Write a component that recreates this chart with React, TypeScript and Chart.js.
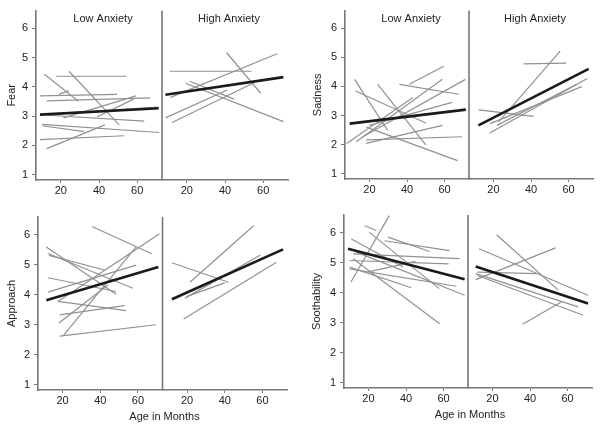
import React, { useEffect, useRef } from 'react';
import { Chart, registerables } from 'chart.js';

Chart.register(...registerables);
Chart.defaults.font.family = "'Liberation Sans', Arial, Helvetica, sans-serif";

// ---------- data ----------
// each subject segment: [startAge, startValue, endAge, endValue]
const X_TICKS = [20, 40, 60];
const Y_TICKS = [1, 2, 3, 4, 5, 6];
const X_MIN = 7;
const X_MAX = 73;
const Y_MIN = 0.82;
const Y_MAX = 6.6;
const GROUP_TITLES = ['Low Anxiety', 'High Anxiety'];
const X_TITLE = 'Age in Months';

const fearLow = [
  [17.5, 4.36, 54.3, 4.36],
  [11.4, 4.43, 29.2, 3.51],
  [24.3, 4.53, 50.6, 2.7],
  [19.1, 3.75, 24.3, 3.86],
  [9.1, 3.69, 49.4, 3.74],
  [12.6, 3.52, 66.9, 3.62],
  [9.5, 3.05, 70.7, 3.31],
  [13.0, 3.03, 63.7, 2.83],
  [10.3, 2.72, 71.6, 2.44],
  [10.3, 2.67, 32.2, 2.47],
  [9.1, 2.2, 53.2, 2.33],
  [12.6, 1.89, 43.1, 2.7],
  [21.4, 2.94, 59.4, 3.69],
  [38.9, 2.97, 58.1, 3.58],
];
const fearLowTrend = [9.1, 3.05, 71.3, 3.27];
const fearHigh = [
  [11.0, 4.53, 53.8, 4.53],
  [40.8, 5.17, 58.7, 3.78],
  [11.4, 3.64, 67.4, 5.13],
  [19.3, 4.12, 70.6, 2.81],
  [8.8, 2.94, 41.2, 3.89],
  [12.3, 2.78, 55.2, 4.14],
  [21.5, 4.19, 44.7, 3.58],
];
const fearHighTrend = [8.8, 3.73, 70.6, 4.33];

const sadnessLow = [
  [12.1, 4.24, 29.7, 2.49],
  [12.6, 3.84, 50.0, 2.74],
  [24.4, 4.07, 50.0, 1.99],
  [35.9, 4.07, 67.6, 3.73],
  [41.2, 4.07, 59.6, 4.69],
  [13.0, 2.1, 58.8, 4.24],
  [16.5, 2.27, 71.1, 4.24],
  [18.3, 2.04, 58.8, 2.66],
  [18.3, 2.16, 69.3, 2.27],
  [20.0, 2.66, 64.0, 3.45],
  [18.4, 2.6, 66.9, 1.45],
  [7.9, 2.04, 43.1, 3.62],
];
const sadnessLowTrend = [9.5, 2.72, 71.3, 3.2];
const sadnessHigh = [
  [36.0, 4.77, 58.7, 4.8],
  [22.8, 2.78, 55.5, 5.21],
  [12.1, 3.19, 41.3, 2.97],
  [18.0, 2.4, 70.0, 4.27],
  [18.3, 2.72, 67.0, 3.99],
  [21.9, 2.66, 64.3, 4.07],
];
const sadnessHighTrend = [12.0, 2.66, 70.7, 4.6];

const approachLow = [
  [35.6, 6.28, 67.3, 5.37],
  [11.4, 5.6, 48.4, 4.02],
  [12.3, 5.38, 57.3, 4.22],
  [12.8, 5.32, 42.3, 4.83],
  [12.3, 4.57, 48.4, 4.11],
  [12.3, 4.09, 59.0, 4.99],
  [17.6, 3.78, 71.4, 6.04],
  [18.5, 3.33, 52.9, 3.64],
  [17.6, 3.78, 53.7, 3.47],
  [18.5, 2.62, 69.6, 3.0],
  [20.2, 2.62, 59.0, 5.6],
  [18.1, 3.06, 44.0, 4.33],
];
const approachLowTrend = [11.4, 3.82, 70.8, 4.93];
const approachHigh = [
  [12.0, 5.07, 42.0, 4.42],
  [21.7, 4.43, 55.3, 6.31],
  [18.2, 3.19, 67.4, 5.09],
  [19.0, 3.89, 58.9, 5.33],
  [20.0, 3.95, 40.0, 4.4],
];
const approachHighTrend = [12.0, 3.85, 70.9, 5.52];

const soothLow = [
  [10.7, 4.36, 31.1, 6.58],
  [18.0, 6.24, 24.2, 6.08],
  [20.5, 6.02, 57.7, 4.14],
  [30.4, 5.86, 52.6, 5.38],
  [10.9, 5.8, 38.4, 4.86],
  [11.8, 5.3, 68.5, 5.14],
  [10.0, 5.08, 62.7, 4.97],
  [10.0, 4.86, 42.8, 4.17],
  [10.0, 4.8, 66.8, 4.22],
  [11.8, 5.14, 57.9, 2.97],
  [13.6, 5.36, 71.2, 3.92],
  [28.6, 5.74, 63.2, 5.41],
  [20.0, 4.7, 45.0, 5.05],
];
const soothLowTrend = [9.1, 5.47, 71.2, 4.45];
const soothHigh = [
  [22.2, 5.94, 54.9, 4.1],
  [12.9, 5.47, 70.9, 3.92],
  [11.1, 4.44, 53.6, 5.5],
  [12.0, 4.69, 43.3, 4.64],
  [11.1, 4.64, 65.6, 3.53],
  [12.0, 4.58, 68.3, 3.25],
  [36.1, 2.95, 56.6, 3.69],
];
const soothHighTrend = [11.1, 4.88, 70.9, 3.64];

// ---------- styles ----------
const SEG_COLOR = 'rgb(145,145,145)';
const TREND_COLOR = '#1a1a1a';
const AXIS_COLOR = '#777777';
const TEXT_COLOR = '#222222';

const panelDecor = {
  id: 'panelDecor',
  afterDatasetsDraw(chart: any, _args: any, opts: any) {
    const { ctx, chartArea, scales } = chart;
    const xL = scales.xL;
    const xR = scales.xR;
    ctx.save();
    ctx.strokeStyle = AXIS_COLOR;
    ctx.lineWidth = 1.6;
    ctx.beginPath();
    ctx.moveTo(xL.right, chartArea.top);
    ctx.lineTo(xL.right, chartArea.bottom);
    ctx.stroke();
    ctx.fillStyle = TEXT_COLOR;
    ctx.font = "11px 'Liberation Sans', Arial, sans-serif";
    ctx.textAlign = 'center';
    ctx.textBaseline = 'middle';
    if (opts.showTitles) {
      ctx.fillText(GROUP_TITLES[0], (xL.left + xL.right) / 2 + 4, chartArea.top + 8.5);
      ctx.fillText(GROUP_TITLES[1], (xR.left + xR.right) / 2 + 4, chartArea.top + 8.5);
    }
    if (opts.showXTitle) {
      ctx.fillText(X_TITLE, (chartArea.left + chartArea.right) / 2 + 2, chartArea.bottom + 27);
    }
    ctx.restore();
  },
};

function segDataset(s: number[], axis: string, trend: boolean) {
  return {
    data: [
      { x: s[0], y: s[1] },
      { x: s[2], y: s[3] },
    ],
    xAxisID: axis,
    yAxisID: 'y',
    showLine: true,
    borderColor: trend ? TREND_COLOR : SEG_COLOR,
    borderWidth: trend ? 2.6 : 1.2,
    pointRadius: 0,
    pointHoverRadius: 0,
    fill: false,
  };
}

type PanelProps = {
  left: number;
  top: number;
  w: number;
  h: number;
  yWidth: number;
  xHeight: number;
  padTop: number;
  padRight: number;
  yTitle: string;
  yTitlePad: number;
  low: number[][];
  lowTrend: number[];
  high: number[][];
  highTrend: number[];
  showTitles: boolean;
  showXTitle: boolean;
};

function Panel(p: PanelProps) {
  const ref = useRef<HTMLCanvasElement>(null);
  useEffect(() => {
    if (!ref.current) return;
    const datasets: any[] = [];
    datasets.push(segDataset(p.lowTrend, 'xL', true));
    datasets.push(segDataset(p.highTrend, 'xR', true));
    p.low.forEach((s) => datasets.push(segDataset(s, 'xL', false)));
    p.high.forEach((s) => datasets.push(segDataset(s, 'xR', false)));

    const xScale = () => ({
      type: 'linear',
      axis: 'x',
      position: 'bottom',
      stack: 'age',
      stackWeight: 1,
      min: X_MIN,
      max: X_MAX,
      offset: false,
      grid: { drawOnChartArea: false, drawTicks: true, tickLength: 3, color: AXIS_COLOR, lineWidth: 1 },
      border: { display: true, color: AXIS_COLOR, width: 1.6 },
      ticks: { font: { size: 11 }, color: TEXT_COLOR, padding: 1, maxRotation: 0, autoSkip: false },
      afterBuildTicks: (s: any) => {
        s.ticks = X_TICKS.map((v) => ({ value: v }));
      },
      afterFit: (s: any) => {
        s.height = p.xHeight;
      },
    });

    const chart = new Chart(ref.current, {
      type: 'scatter',
      data: { datasets },
      options: {
        responsive: false,
        animation: false,
        devicePixelRatio: 1,
        layout: { padding: { top: p.padTop, right: p.padRight, left: 0, bottom: 0 } },
        plugins: {
          legend: { display: false },
          tooltip: { enabled: false },
          panelDecor: { showTitles: p.showTitles, showXTitle: p.showXTitle },
        } as any,
        scales: {
          xL: xScale(),
          xR: xScale(),
          y: {
            type: 'linear',
            position: 'left',
            min: Y_MIN,
            max: Y_MAX,
            grid: { drawOnChartArea: false, drawTicks: true, tickLength: 4, color: AXIS_COLOR, lineWidth: 1 },
            border: { display: true, color: AXIS_COLOR, width: 1.6 },
            ticks: { font: { size: 11 }, color: TEXT_COLOR, padding: 4 },
            title: {
              display: true,
              text: p.yTitle,
              color: TEXT_COLOR,
              font: { size: 11 },
              padding: { top: p.yTitlePad, bottom: 0 },
            },
            afterBuildTicks: (s: any) => {
              s.ticks = Y_TICKS.map((v) => ({ value: v }));
            },
            afterFit: (s: any) => {
              s.width = p.yWidth;
            },
          },
        } as any,
      },
      plugins: [panelDecor],
    } as any);
    return () => chart.destroy();
  }, []);
  return (
    <canvas
      ref={ref}
      width={p.w}
      height={p.h}
      style={{ position: 'absolute', left: p.left, top: p.top, width: p.w, height: p.h }}
    />
  );
}

export default function App() {
  return (
    <div style={{ position: 'absolute', left: 0, top: 0, width: 601, height: 431, background: '#fff', overflow: 'hidden' }}>
      <Panel left={0} top={0} w={300} h={200} yWidth={36} xHeight={20} padTop={7} padRight={12}
        yTitle="Fear" yTitlePad={5} low={fearLow} lowTrend={fearLowTrend} high={fearHigh} highTrend={fearHighTrend}
        showTitles={true} showXTitle={false} />
      <Panel left={300} top={0} w={301} h={200} yWidth={45} xHeight={21} padTop={7} padRight={8}
        yTitle="Sadness" yTitlePad={11} low={sadnessLow} lowTrend={sadnessLowTrend} high={sadnessHigh} highTrend={sadnessHighTrend}
        showTitles={true} showXTitle={false} />
      <Panel left={0} top={200} w={300} h={231} yWidth={38} xHeight={41} padTop={17} padRight={13}
        yTitle="Approach" yTitlePad={5} low={approachLow} lowTrend={approachLowTrend} high={approachHigh} highTrend={approachHighTrend}
        showTitles={false} showXTitle={true} />
      <Panel left={300} top={200} w={301} h={231} yWidth={44} xHeight={43} padTop={15} padRight={9}
        yTitle="Soothability" yTitlePad={10} low={soothLow} lowTrend={soothLowTrend} high={soothHigh} highTrend={soothHighTrend}
        showTitles={false} showXTitle={true} />
    </div>
  );
}
